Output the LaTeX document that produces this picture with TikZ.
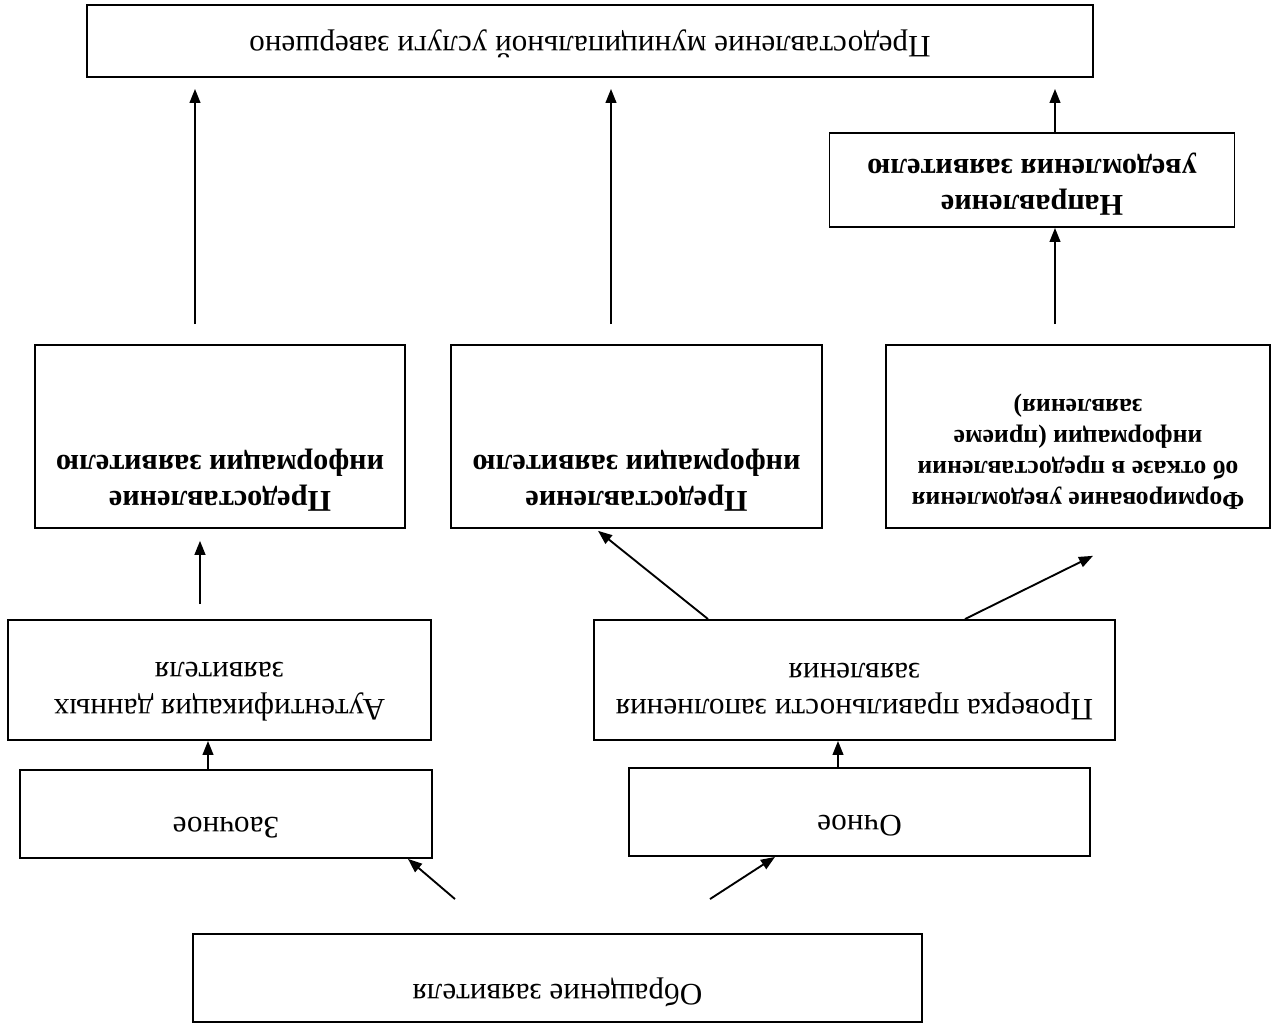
\documentclass[tikz,border=0pt]{standalone}
\usepackage{fontspec}
\setmainfont{Liberation Serif}
\usetikzlibrary{calc,arrows.meta}

\tikzset{
  box/.style={draw, line width=0.8pt, align=center, inner sep=2pt,
    font=\fontsize{13.3}{15.6}\selectfont},
  bbox/.style={box, font=\fontsize{12.9}{15.4}\selectfont\bfseries},
  lift/.style={text depth=#1},
  arr/.style={-{Triangle[length=6pt,width=4.6pt]}, line width=0.8pt},
}

\begin{document}
\begin{tikzpicture}[x=-0.015cm, y=0.015cm, rotate=180, transform shape]
  \useasboundingbox (0,0) rectangle (1272,1026);

  % the whole scheme is printed upside down
  \node[box, lift=15pt, minimum width=10.935cm, minimum height=1.32cm] (appeal) at (557.5, 978) {Обращение заявителя};

  \node[box, lift=12pt, minimum width=6.18cm, minimum height=1.32cm] (zaoch) at (226, 814) {Заочное};
  \node[box, lift=12pt, minimum width=6.915cm, minimum height=1.32cm] (och) at (859.5, 812) {Очное};

  \node[box, lift=10pt, minimum width=6.345cm, minimum height=1.8cm] (auth) at (219.5, 680) {Аутентификация данных\\заявителя};
  \node[box, lift=10pt, minimum width=7.815cm, minimum height=1.8cm] (check) at (854.5, 680) {Проверка правильности заполнения\\заявления};

  \node[bbox, text height=29pt, lift=45pt, minimum width=5.55cm] (giveL) at (220, 436.5) {Предоставление\\информации заявителю};
  \node[bbox, text height=29pt, lift=45pt, minimum width=5.565cm] (giveM) at (636.5, 436.5) {Предоставление\\информации заявителю};
  \node[bbox, font=\fontsize{11}{13.2}\selectfont\bfseries, text height=52.6pt, lift=21.4pt,
    minimum width=5.76cm] (refuse) at (1078, 436.5) {Формирование уведомления\\об отказе в предоставлении\\информации (приеме\\заявления)};

  \node[bbox, lift=6pt, minimum width=6.075cm, minimum height=1.41cm] (notify) at (1032, 180) {Направление\\уведомления заявителю};

  \node[box, lift=5pt, minimum width=15.09cm, minimum height=1.08cm] (done) at (590, 41) {Предоставление муниципальной услуги завершено};

  \draw[arr] ($(appeal.south)+(-102.5,-34)$) -- ($(zaoch.north)+(182,0)$);
  \draw[arr] ($(appeal.south)+(152.5,-34)$) -- ($(och.north)+(-84.5,0)$);

  \draw[arr] ($(zaoch.south)+(-18,0)$) -- ($(auth.north)+(-11.5,0)$);
  \draw[arr] ($(och.south)+(-21.5,0)$) -- ($(check.north)+(-16.5,0)$);

  \draw[arr] ($(auth.south)+(-19.5,-15)$) -- ($(giveL.north)+(-20,12)$);
  \draw[arr] ($(check.south)+(-146.5,0)$) -- ($(giveM.north)+(-38.5,2)$);
  \draw[arr] ($(check.south)+(110.5,0)$) -- ($(refuse.north)+(15,27)$);

  \draw[arr] ($(giveL.south)+(-25,-20)$) -- ($(done.north)+(-395,11)$);
  \draw[arr] ($(giveM.south)+(-25.5,-20)$) -- ($(done.north)+(21,11)$);
  \draw[arr] ($(refuse.south)+(-23,-20)$) -- ($(notify.north)+(23,0)$);
  \draw[arr] ($(notify.south)+(23,0)$) -- ($(done.north)+(465,11)$);
\end{tikzpicture}
\end{document}
